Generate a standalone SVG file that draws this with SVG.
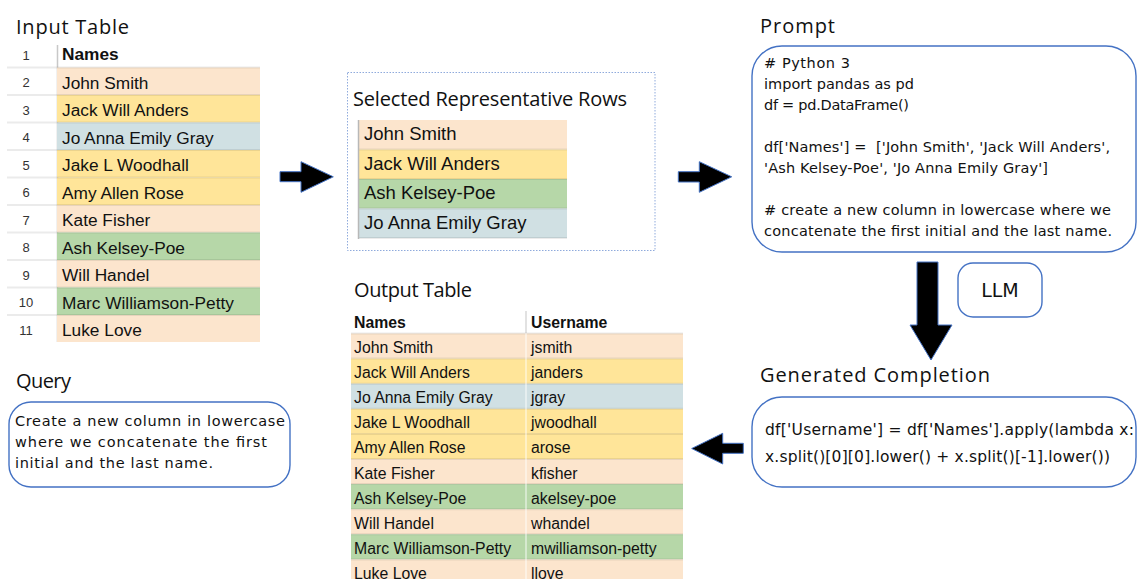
<svg xmlns="http://www.w3.org/2000/svg" width="1137" height="579" viewBox="0 0 1137 579">
<style>
.title{font-family:"Open Sans","Liberation Sans",sans-serif;font-size:20px;fill:#111}
.cell{font-family:"Liberation Sans",Arial,sans-serif;fill:#111}
.in{font-size:17.3px}
.sel{font-size:18.5px}
.out{font-size:15.8px}
.num{font-family:"Liberation Sans",Arial,sans-serif;font-size:13px;fill:#333;text-anchor:middle}
.hdr{font-weight:bold}
.code{font-family:"Comic Sans MS","DejaVu Sans",sans-serif;fill:#111}
.rbox{fill:#fff;stroke:#4472C4;stroke-width:1.4}
.peach{fill:#FCE5CD}.yellow{fill:#FFE599}.blue{fill:#D0E0E3}.green{fill:#B6D7A8}
.sep{stroke:#000;stroke-opacity:0.08;stroke-width:2}
.arrow{fill:#000;stroke:#4472C4;stroke-width:1}
</style>

<g id="input-table">
<text class="title" x="16" y="34" textLength="113">Input Table</text>
<text class="num" x="26" y="60">1</text>
<text class="cell in hdr" x="62" y="60">Names</text>
<line x1="57.5" y1="45" x2="57.5" y2="342" stroke="#c8c8c8" stroke-width="1.5"/>
<rect class="peach" x="57" y="67.5" width="203" height="27.5"/>
<rect class="yellow" x="57" y="95" width="203" height="27.5"/>
<rect class="blue" x="57" y="122.5" width="203" height="27.5"/>
<rect class="yellow" x="57" y="150" width="203" height="27.5"/>
<rect class="yellow" x="57" y="177.5" width="203" height="27.5"/>
<rect class="peach" x="57" y="205" width="203" height="27.5"/>
<rect class="green" x="57" y="232.5" width="203" height="27.5"/>
<rect class="peach" x="57" y="260" width="203" height="27.5"/>
<rect class="green" x="57" y="287.5" width="203" height="27.5"/>
<rect class="peach" x="57" y="315" width="203" height="27"/>
<g class="sep">
<line x1="7" y1="67.5" x2="260" y2="67.5"/><line x1="7" y1="95" x2="260" y2="95"/><line x1="7" y1="122.5" x2="260" y2="122.5"/><line x1="7" y1="150" x2="260" y2="150"/><line x1="7" y1="177.5" x2="260" y2="177.5"/><line x1="7" y1="205" x2="260" y2="205"/><line x1="7" y1="232.5" x2="260" y2="232.5"/><line x1="7" y1="260" x2="260" y2="260"/><line x1="7" y1="287.5" x2="260" y2="287.5"/><line x1="7" y1="315" x2="260" y2="315"/>
</g>
<text class="num" x="26" y="87">2</text><text class="cell in" x="62" y="88.5">John Smith</text>
<text class="num" x="26" y="114.5">3</text><text class="cell in" x="62" y="116">Jack Will Anders</text>
<text class="num" x="26" y="142">4</text><text class="cell in" x="62" y="143.5">Jo Anna Emily Gray</text>
<text class="num" x="26" y="169.5">5</text><text class="cell in" x="62" y="171">Jake L Woodhall</text>
<text class="num" x="26" y="197">6</text><text class="cell in" x="62" y="198.5">Amy Allen Rose</text>
<text class="num" x="26" y="224.5">7</text><text class="cell in" x="62" y="226">Kate Fisher</text>
<text class="num" x="26" y="252">8</text><text class="cell in" x="62" y="253.5">Ash Kelsey-Poe</text>
<text class="num" x="26" y="279.5">9</text><text class="cell in" x="62" y="281">Will Handel</text>
<text class="num" x="26" y="307">10</text><text class="cell in" x="62" y="308.5">Marc Williamson-Petty</text>
<text class="num" x="26" y="334.5">11</text><text class="cell in" x="62" y="336">Luke Love</text>
</g>

<g id="selected-rows">
<rect x="347.5" y="72.5" width="307.5" height="178" fill="none" stroke="#8FAADC" stroke-width="1" stroke-dasharray="1.5 1.5"/>
<text class="title" x="353" y="106" textLength="274">Selected Representative Rows</text>
<rect class="peach" x="358" y="120" width="209" height="29.5"/>
<rect class="yellow" x="358" y="149.5" width="209" height="29.5"/>
<rect class="green" x="358" y="179" width="209" height="29.5"/>
<rect class="blue" x="358" y="208.5" width="209" height="29.5"/>
<g class="sep">
<line x1="358" y1="149.5" x2="567" y2="149.5"/><line x1="358" y1="179" x2="567" y2="179"/><line x1="358" y1="208.5" x2="567" y2="208.5"/><line x1="358" y1="238" x2="567" y2="238"/>
</g>
<line x1="358.5" y1="120" x2="358.5" y2="239" stroke="#b8b8b8" stroke-width="1.5"/>
<text class="cell sel" x="364" y="140">John Smith</text>
<text class="cell sel" x="364" y="169.5">Jack Will Anders</text>
<text class="cell sel" x="364" y="199">Ash Kelsey-Poe</text>
<text class="cell sel" x="364" y="228.5">Jo Anna Emily Gray</text>
</g>

<g id="prompt">
<text class="title" x="760" y="33" textLength="75">Prompt</text>
<rect class="rbox" x="752" y="46" width="384" height="206" rx="30"/>
<g class="code" font-size="14.5px">
<text x="764" y="68" textLength="86"># Python 3</text>
<text x="764" y="89" textLength="150">import pandas as pd</text>
<text x="764" y="110" textLength="145">df = pd.DataFrame()</text>
<text x="764" y="152" textLength="346" style="white-space:pre">df['Names'] =  ['John Smith', 'Jack Will Anders',</text>
<text x="764" y="173" textLength="284">'Ash Kelsey-Poe', 'Jo Anna Emily Gray']</text>
<text x="764" y="215" textLength="347"># create a new column in lowercase where we</text>
<text x="764" y="236" textLength="348">concatenate the first initial and the last name.</text>
</g>
</g>

<g id="llm">
<rect class="rbox" x="958" y="263" width="84" height="54" rx="15"/>
<text class="code" x="1000" y="297" font-size="19px" text-anchor="middle">LLM</text>
</g>

<g id="completion">
<text class="title" x="760" y="382" textLength="230">Generated Completion</text>
<rect class="rbox" x="752" y="397" width="384" height="90" rx="30"/>
<g class="code" font-size="15.5px">
<text x="765" y="435" textLength="369">df['Username'] = df['Names'].apply(lambda x:</text>
<text x="765" y="462" textLength="345">x.split()[0][0].lower() + x.split()[-1].lower())</text>
</g>
</g>

<g id="query">
<text class="title" x="16" y="388" textLength="55">Query</text>
<rect class="rbox" x="9" y="402" width="281" height="85" rx="22"/>
<g class="code" font-size="14.5px">
<text x="15" y="426" textLength="270">Create a new column in lowercase</text>
<text x="15" y="447" textLength="252">where we concatenate the first</text>
<text x="15" y="468" textLength="198">initial and the last name.</text>
</g>
</g>

<g id="output-table">
<text class="title" x="354" y="297" textLength="118">Output Table</text>
<line x1="526" y1="311" x2="526" y2="333" stroke="#d8d8d8" stroke-width="1.5"/>
<text class="cell out hdr" x="354" y="328">Names</text>
<text class="cell out hdr" x="531" y="328">Username</text>
<rect class="peach" x="351" y="333.5" width="332" height="25.1"/>
<rect class="yellow" x="351" y="358.6" width="332" height="25.1"/>
<rect class="blue" x="351" y="383.7" width="332" height="25.1"/>
<rect class="yellow" x="351" y="408.8" width="332" height="25.1"/>
<rect class="yellow" x="351" y="433.9" width="332" height="25.1"/>
<rect class="peach" x="351" y="459" width="332" height="25.1"/>
<rect class="green" x="351" y="484.1" width="332" height="25.1"/>
<rect class="peach" x="351" y="509.2" width="332" height="25.1"/>
<rect class="green" x="351" y="534.3" width="332" height="25.1"/>
<rect class="peach" x="351" y="559.4" width="332" height="20"/>
<g class="sep">
<line x1="351" y1="333.5" x2="683" y2="333.5"/><line x1="351" y1="358.6" x2="683" y2="358.6"/><line x1="351" y1="383.7" x2="683" y2="383.7"/><line x1="351" y1="408.8" x2="683" y2="408.8"/><line x1="351" y1="433.9" x2="683" y2="433.9"/><line x1="351" y1="459" x2="683" y2="459"/><line x1="351" y1="484.1" x2="683" y2="484.1"/><line x1="351" y1="509.2" x2="683" y2="509.2"/><line x1="351" y1="534.3" x2="683" y2="534.3"/><line x1="351" y1="559.4" x2="683" y2="559.4"/>
</g>
<line x1="526" y1="333.5" x2="526" y2="579" stroke="#fff" stroke-opacity="0.6" stroke-width="1.5"/>
<g class="cell out">
<text x="354" y="353">John Smith</text><text x="531" y="353">jsmith</text>
<text x="354" y="378.1">Jack Will Anders</text><text x="531" y="378.1">janders</text>
<text x="354" y="403.2">Jo Anna Emily Gray</text><text x="531" y="403.2">jgray</text>
<text x="354" y="428.3">Jake L Woodhall</text><text x="531" y="428.3">jwoodhall</text>
<text x="354" y="453.4">Amy Allen Rose</text><text x="531" y="453.4">arose</text>
<text x="354" y="478.5">Kate Fisher</text><text x="531" y="478.5">kfisher</text>
<text x="354" y="503.6">Ash Kelsey-Poe</text><text x="531" y="503.6">akelsey-poe</text>
<text x="354" y="528.7">Will Handel</text><text x="531" y="528.7">whandel</text>
<text x="354" y="553.8">Marc Williamson-Petty</text><text x="531" y="553.8">mwilliamson-petty</text>
<text x="354" y="578.9">Luke Love</text><text x="531" y="578.9">llove</text>
</g>
</g>

<g id="connectors">
<path class="arrow" d="M280,171.7 H301 V161.7 L333.3,176.8 L301,192.3 V181.7 H280 Z"/>
<path class="arrow" d="M678.3,171.7 H699.3 V161.7 L731.7,176.8 L699.3,192.3 V182 H678.3 Z"/>
<path class="arrow" d="M917,262 H938 V325 H952 L931,360 L910,325 H917 Z"/>
<path class="arrow" d="M743.3,443.3 H722.7 V433.3 L691.7,448.5 L722.7,464 V453.3 H743.3 Z"/>
</g>
</svg>
